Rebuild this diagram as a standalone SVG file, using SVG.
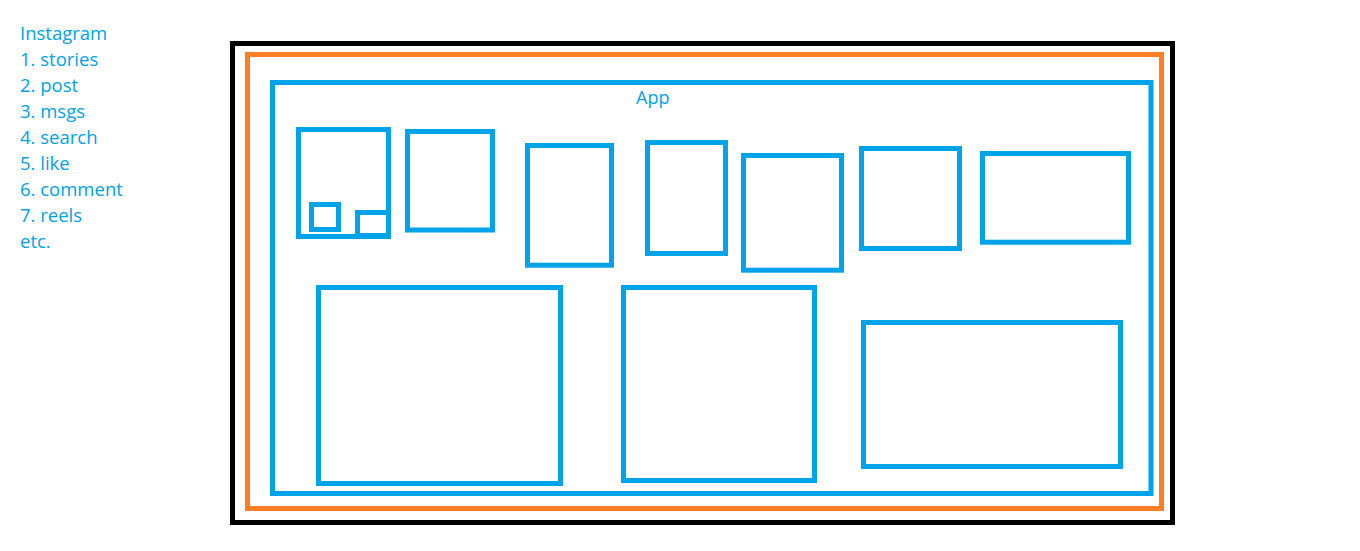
<svg xmlns="http://www.w3.org/2000/svg" width="1360" height="551" viewBox="0 0 1360 551">
<style>
.t{font-family:"Open Sans","Liberation Sans",sans-serif;font-size:18px;fill:#00A2E8}
.l{font-size:18.5px}
.b{fill:none;stroke:#00A2E8;stroke-width:5}
</style>
<rect width="1360" height="551" fill="#fff"/>
<g id="legend">
<text class="t l" x="20" y="40">Instagram</text>
<text class="t l" x="20" y="66">1. stories</text>
<text class="t l" x="20" y="92">2. post</text>
<text class="t l" x="20" y="118">3. msgs</text>
<text class="t l" x="20" y="144">4. search</text>
<text class="t l" x="20" y="170">5. like</text>
<text class="t l" x="20" y="196">6. comment</text>
<text class="t l" x="20" y="222">7. reels</text>
<text class="t l" x="20" y="248">etc.</text>
</g>
<g id="outer"><rect x="232.5" y="43.5" width="940" height="479" fill="none" stroke="#000" stroke-width="5"/></g>
<g id="orange"><rect x="247.5" y="54.5" width="914" height="454" fill="none" stroke="#FF7F27" stroke-width="5"/></g>
<g id="app">
<rect class="b" x="272.5" y="82.5" width="878.5" height="411"/>
<text class="t" x="636" y="104">App</text>
</g>
<g id="box1">
<rect class="b" x="298.5" y="129.5" width="90" height="107"/>
<rect class="b" x="311.5" y="204.5" width="27" height="25"/>
<rect class="b" x="357.5" y="212.5" width="31" height="23"/>
</g>
<g id="box2"><rect class="b" x="407.5" y="131.5" width="85" height="98.5"/></g>
<g id="box3"><rect class="b" x="527.5" y="145.5" width="84" height="119.7"/></g>
<g id="box4"><rect class="b" x="647.5" y="142.5" width="78" height="111"/></g>
<g id="box5"><rect class="b" x="743.5" y="155.5" width="98" height="114.7"/></g>
<g id="box6"><rect class="b" x="861.5" y="148.5" width="98" height="100"/></g>
<g id="box7"><rect class="b" x="982.5" y="153.5" width="146" height="88.7"/></g>
<g id="box8"><rect class="b" x="318.5" y="287.5" width="242" height="196"/></g>
<g id="box9"><rect class="b" x="623.5" y="287.5" width="191" height="193"/></g>
<g id="box10"><rect class="b" x="863.5" y="322.5" width="257" height="144"/></g>
<g id="connectors"/>
</svg>
